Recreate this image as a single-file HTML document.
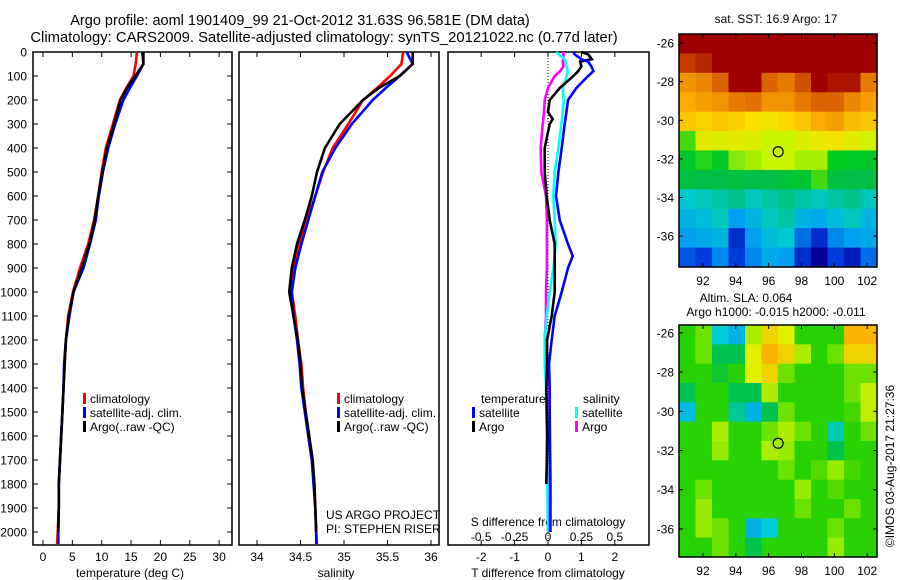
<!DOCTYPE html>
<html><head><meta charset="utf-8">
<style>
html,body{margin:0;padding:0;background:#fff;}
svg{display:block;font-family:"Liberation Sans",sans-serif;}
text{fill:#000;}
</style></head>
<body>
<svg id="fig" width="900" height="580" viewBox="0 0 900 580" xmlns="http://www.w3.org/2000/svg">
<text x="300" y="25" font-size="14.5" text-anchor="middle">Argo profile: aoml 1901409_99 21-Oct-2012 31.63S 96.581E (DM data)</text>
<text x="324" y="42" font-size="14.8" text-anchor="middle">Climatology: CARS2009. Satellite-adjusted climatology: synTS_20121022.nc (0.77d later)</text>
<text x="776" y="23" font-size="12" text-anchor="middle">sat. SST: 16.9 Argo: 17</text>
<text x="746" y="302" font-size="12" text-anchor="middle">Altim. SLA: 0.064</text>
<text x="776" y="316" font-size="12" text-anchor="middle">Argo h1000: -0.015 h2000: -0.011</text>
<text transform="translate(894,466) rotate(-90)" font-size="12" text-anchor="middle">©IMOS 03-Aug-2017 21:27:36</text>
<g id="g"></g>
</svg>
<script>
// ---- profile data ----
const depths = [0,50,100,150,200,300,400,500,600,700,800,900,1000,1100,1200,1300,1400,1500,1600,1700,1800,1900,2000,2050];
const tempClim = [16.0,15.8,15.4,14.2,13.1,11.9,10.7,10.0,9.4,8.7,7.7,6.3,5.1,4.3,3.9,3.7,3.5,3.3,3.1,2.9,2.7,2.7,2.5,2.4];
const tempSat  = [16.9,17.1,16.0,14.8,13.7,12.3,11.1,10.2,9.5,9.0,8.0,6.9,5.2,4.5,3.9,3.6,3.5,3.3,3.1,2.9,2.7,2.7,2.6,2.6];
const tempArgo = [17.1,17.1,15.7,14.3,13.2,12.1,10.9,10.1,9.4,8.8,7.9,6.6,5.2,4.4,3.9,3.7,3.5,3.3,3.1,2.9,2.7,2.7,2.6];
const salClim = [35.68,35.66,35.53,35.38,35.22,35.05,34.87,34.76,34.67,34.57,34.49,34.41,34.40,34.44,34.47,34.51,34.53,34.56,34.59,34.63,34.66,34.67,34.68,34.69];
const salSat  = [35.72,35.79,35.64,35.48,35.33,35.09,34.90,34.75,34.67,34.59,34.51,34.44,34.40,34.42,34.46,34.49,34.51,34.55,34.59,34.63,34.65,34.67,34.68,34.68];
const salArgo = [35.79,35.79,35.64,35.40,35.22,34.95,34.78,34.69,34.63,34.55,34.46,34.40,34.37,34.42,34.47,34.50,34.52,34.56,34.60,34.64,34.66,34.67,34.68];
const diffDepths = [0,10,30,40,60,80,100,150,200,250,280,300,400,500,600,700,800,850,900,1000,1100,1200,1300,1400,1600,1800,2000];
const dTsat  = [0.76,0.8,1.0,1.2,1.3,1.36,1.2,0.85,0.6,0.55,0.52,0.5,0.41,0.31,0.24,0.35,0.6,0.74,0.6,0.41,0.2,0.11,0.03,0.05,0.05,0.06,0.06];
const dTargo = [1.0,1.2,1.31,0.96,1.0,0.9,0.76,0.35,0.05,0.0,0.14,0.05,-0.1,-0.1,-0.04,0.05,0.2,0.2,0.2,0.2,0.11,-0.03,-0.03,-0.05,-0.02,-0.05];
const dSsat  = [0.063,0.08,0.125,0.13,0.14,0.148,0.14,0.11,0.118,0.11,0.105,0.10,0.077,0.05,0.04,0.05,0.058,0.05,0.04,0.013,-0.01,-0.025,-0.025,-0.015,-0.01,-0.005,0.0];
const dSargo = [0.115,0.115,0.115,0.11,0.115,0.09,0.05,0.0,-0.025,-0.03,-0.035,-0.04,-0.055,-0.05,-0.015,-0.008,-0.008,-0.008,-0.008,-0.015,-0.015,-0.025,-0.01,0.01,0.015,0.02,0.02];
const depthTicks = [0,100,200,300,400,500,600,700,800,900,1000,1100,1200,1300,1400,1500,1600,1700,1800,1900,2000];
const tempTicks = [0,5,10,15,20,25,30];
const salTicks = [34,34.5,35,35.5,36];
const tdTicks = [-2,-1,0,1,2];
const sdTicks = [-0.5,-0.25,0,0.25,0.5];
// ---- map data (rows north->south, cols west->east) ----
const sstGrid = [
[19.5,19.5,19.5,19.5,19.5,19.5,19.5,19.5,19.5,19.5,19.5,19.5],
[19.0,19.1,19.3,19.5,19.5,19.5,19.5,19.5,19.5,19.5,19.5,19.5],
[18.4,18.5,18.8,19.3,19.3,18.8,18.6,18.9,19.3,19.2,19.2,18.6],
[18.2,18.3,18.4,18.6,18.7,18.4,18.4,18.6,18.8,18.8,18.5,18.3],
[17.9,17.8,17.9,17.8,17.6,17.5,17.7,17.9,18.2,18.3,18.0,17.9],
[16.6,17.3,17.2,17.3,17.2,17.0,17.0,17.2,17.4,17.5,17.3,17.1],
[16.2,16.5,16.3,16.8,16.9,17.0,17.0,16.9,16.9,16.4,16.3,16.2],
[15.9,15.8,15.8,15.9,15.8,15.8,16.0,16.1,16.6,15.9,15.8,15.8],
[15.2,15.3,15.4,15.5,15.3,15.4,15.5,15.4,15.3,15.4,15.5,15.3],
[15.0,15.1,15.3,14.8,15.0,15.3,15.4,15.0,14.9,15.1,15.3,15.0],
[14.8,14.9,15.0,14.3,14.8,15.1,15.2,14.6,14.3,14.7,14.8,14.9],
[14.5,14.4,14.7,14.4,14.7,14.9,14.8,14.3,14.0,14.4,14.2,14.6]];
const slaGrid = [
[0.0,0.05,-0.15,-0.2,0.1,0.2,0.15,0.0,0.0,0.0,0.25,0.25],
[0.0,0.05,-0.05,-0.05,0.15,0.25,0.2,0.1,0.0,0.05,0.2,0.2],
[0.0,0.0,-0.03,0.0,0.15,0.2,0.05,0.0,0.0,0.0,0.05,0.05],
[-0.05,0.0,0.0,-0.05,-0.05,0.1,0.0,0.0,0.0,0.0,0.05,0.12],
[-0.18,0.0,0.0,-0.1,-0.2,-0.05,0.05,0.0,0.0,0.0,0.02,0.12],
[0.0,0.0,0.1,0.0,0.0,0.05,0.1,0.05,0.0,-0.12,0.0,0.05],
[0.0,0.0,0.08,0.0,0.0,0.1,0.08,0.0,0.0,-0.05,0.0,0.0],
[0.0,0.0,0.0,0.0,0.0,0.0,0.05,0.0,0.03,0.08,0.02,0.0],
[0.0,0.05,0.0,0.0,0.0,0.0,0.0,0.08,0.0,0.03,0.0,0.0],
[0.0,0.08,0.0,0.0,0.0,0.0,0.0,0.05,0.0,0.0,0.05,0.0],
[0.0,0.08,0.05,0.0,-0.2,-0.15,0.0,0.0,0.0,0.05,0.0,0.0],
[0.0,0.0,0.05,0.0,-0.05,0.0,0.0,0.0,0.0,0.08,0.0,0.0]];
const lonTicks = [92,94,96,98,100,102];
const latTicks = [-26,-28,-30,-32,-34,-36];
const argoLon = 96.581, argoLat = -31.63;

const NS = 'http://www.w3.org/2000/svg';
const G = document.getElementById('g');
function mk(tag, attrs, parent){
  const e = document.createElementNS(NS, tag);
  for (const k in attrs) e.setAttribute(k, attrs[k]);
  (parent||G).appendChild(e); return e;
}
function txt(s, x, y, anchor, size, name){
  const t = mk('text', {x:x, y:y, 'text-anchor':anchor||'middle', 'font-size':size||12});
  t.textContent = s;
  
  
  return t;
}
const yD = d => 52 + d*0.24;
const xT = v => 43 + v*5.87;
const xS = v => 257 + (v-34)*87;
const xTd = v => 548 + v*33.4;
const xSd = v => 548 + v*133.6;
const PT = 52, PB = 545;

function panel(x0, x1, name){
  const r = mk('rect', {x:x0, y:PT, width:x1-x0, height:PB-PT, fill:'none', stroke:'#000', 'stroke-width':1.5});
  
  
}
panel(33,232,'temperature-panel');
panel(239,439,'salinity-panel');
panel(448,649,'difference-panel');

depthTicks.forEach(d=>{
  const y = yD(d);
  mk('line',{x1:33,x2:38,y1:y,y2:y,stroke:'#000'});
  mk('line',{x1:227,x2:232,y1:y,y2:y,stroke:'#000'});
  txt(String(d), 27, y+4.5, 'end', 12, 'depth-tick-label');
});
function xticks(vals, fx, lbl){
  vals.forEach(v=>{
    const x = fx(v);
    mk('line',{x1:x,x2:x,y1:PT,y2:PT+5,stroke:'#000'});
    mk('line',{x1:x,x2:x,y1:PB-5,y2:PB,stroke:'#000'});
    if (lbl) txt(String(v), x, 561, 'middle', 12, 'x-tick-label');
  });
}
xticks(tempTicks, xT, true);
xticks(salTicks, xS, true);
xticks(tdTicks, xTd, true);
sdTicks.forEach(v=>txt(String(v), xSd(v), 541, 'middle', 12, 's-diff-tick-label'));
txt('temperature (deg C)', 130, 577, 'middle', 12, 'x-axis-title-temperature');
txt('salinity', 336, 577, 'middle', 12, 'x-axis-title-salinity');
txt('T difference from climatology', 548, 577, 'middle', 12, 'x-axis-title-t-diff');
txt('S difference from climatology', 548, 526, 'middle', 12, 'x-axis-title-s-diff');
const zl = mk('line',{x1:xTd(0),x2:xTd(0),y1:PT,y2:PB,stroke:'#000','stroke-dasharray':'1,2'});



function line(vals, dep, fx, color, name){
  const pts = vals.map((v,i)=>fx(v).toFixed(1)+','+yD(dep[i]).toFixed(1)).join(' ');
  const p = mk('polyline',{points:pts, fill:'none', stroke:color, 'stroke-width':2.6, 'stroke-linejoin':'miter'});
  
  
}
line(tempClim, depths, xT, '#ff0000', 'temp-climatology-line');
line(tempSat, depths, xT, '#0000ff', 'temp-satellite-line');
line(tempArgo, depths, xT, '#000000', 'temp-argo-line');
line(salClim, depths, xS, '#ff0000', 'sal-climatology-line');
line(salSat, depths, xS, '#0000ff', 'sal-satellite-line');
line(salArgo, depths, xS, '#000000', 'sal-argo-line');
line(dSargo, diffDepths, xSd, '#ff00ff', 's-diff-argo-line');
line(dSsat, diffDepths, xSd, '#00ffff', 's-diff-satellite-line');
line(dTargo, diffDepths, xTd, '#000000', 't-diff-argo-line');
line(dTsat, diffDepths, xTd, '#0000ff', 't-diff-satellite-line');

function legend(x, y, color, label, name){
  const r = mk('rect',{x:x, y:y-10, width:3, height:11, fill:color});
  
  
  txt(label, x+7, y, 'start', 12, name);
}
[[83,'#ff0000','climatology'],[83,'#0000ff','satellite-adj. clim.'],[83,'#000000','Argo(..raw -QC)']].forEach((l,i)=>{
  legend(l[0], 403+i*14, l[1], l[2], 'legend-temp-'+i);
  legend(337, 403+i*14, l[1], l[2], 'legend-sal-'+i);
});
txt('temperature', 481, 403, 'start', 12, 'legend-temperature-header');
txt('salinity', 583, 403, 'start', 12, 'legend-salinity-header');
legend(472, 417, '#0000ff', 'satellite', 'legend-t-satellite');
legend(472, 431, '#000000', 'Argo', 'legend-t-argo');
legend(575, 417, '#00ffff', 'satellite', 'legend-s-satellite');
legend(575, 431, '#ff00ff', 'Argo', 'legend-s-argo');
txt('US ARGO PROJECT', 326, 519, 'start', 12, 'project-label');
txt('PI: STEPHEN RISER', 326, 533, 'start', 12, 'pi-label');

function interp(stops, v){
  if (v <= stops[0][0]) return stops[0][1];
  for (let i=1;i<stops.length;i++){
    if (v <= stops[i][0]){
      const a = stops[i-1], b = stops[i], t = (v-a[0])/(b[0]-a[0]);
      return a[1].map((c,k)=>Math.round(c + (b[1][k]-c)*t));
    }
  }
  return stops[stops.length-1][1];
}
const sstStops = [[14.0,[0,0,150]],[14.4,[0,60,220]],[14.8,[0,160,240]],[15.2,[0,200,210]],[15.8,[0,190,70]],[16.4,[0,205,30]],[17.0,[200,245,0]],[17.6,[250,225,0]],[18.2,[250,170,0]],[18.8,[220,100,0]],[19.3,[160,0,0]]];
const slaStops = [[-0.25,[0,150,240]],[-0.15,[0,205,215]],[-0.05,[0,195,80]],[0,[40,210,0]],[0.08,[150,235,0]],[0.15,[225,240,0]],[0.25,[250,180,0]]];

function drawMap(grid, stops, box, lonR, latR, name){
  const {x0,x1,y0,y1} = box;
  const lon2x = lon => x0 + (lon-lonR[0])/(lonR[1]-lonR[0])*(x1-x0);
  const lat2y = lat => y0 + (latR[0]-lat)/(latR[0]-latR[1])*(y1-y0);
  const rows = grid.length, cols = grid[0].length;
  const cw = (x1-x0)/cols, ch = (y1-y0)/rows;
  grid.forEach((row,r)=>row.forEach((v,c)=>{
    const col = interp(stops, v);
    const cell = mk('rect',{x:(x0+c*cw).toFixed(2), y:(y0+r*ch).toFixed(2), width:(cw+0.6).toFixed(2), height:(ch+0.6).toFixed(2), fill:'rgb('+col.join(',')+')'});
    
    
  }));
  const fr = mk('rect',{x:x0,y:y0,width:x1-x0,height:y1-y0,fill:'none',stroke:'#000','stroke-width':1.5});
  
  
  lonTicks.forEach(l=>{
    const x = lon2x(l);
    mk('line',{x1:x,x2:x,y1:y0,y2:y0+4,stroke:'#000'});
    mk('line',{x1:x,x2:x,y1:y1-4,y2:y1,stroke:'#000'});
    txt(String(l), x, y1+18, 'middle', 12, name+'-lon-label');
  });
  latTicks.forEach(l=>{
    const y = lat2y(l);
    mk('line',{x1:x0,x2:x0+4,y1:y,y2:y,stroke:'#000'});
    mk('line',{x1:x1-4,x2:x1,y1:y,y2:y,stroke:'#000'});
    txt(String(l), x0-5, y+4.5, 'end', 12, name+'-lat-label');
  });
  const m = mk('circle',{cx:lon2x(argoLon), cy:lat2y(argoLat), r:5, fill:'none', stroke:'#000','stroke-width':1.2});
  
  
}
drawMap(sstGrid, sstStops, {x0:679,x1:877,y0:34,y1:267}, [90.54,102.6], [-25.53,-37.6], 'sst-map');
drawMap(slaGrid, slaStops, {x0:679,x1:877,y0:325,y1:557}, [90.54,102.6], [-25.6,-37.43], 'sla-map');
</script>
</body></html>
